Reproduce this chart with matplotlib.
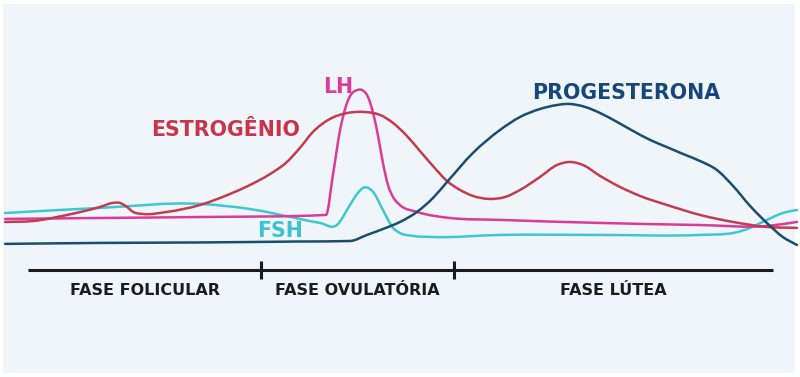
import matplotlib
matplotlib.use("Agg")
import numpy as np
import matplotlib.pyplot as plt
from matplotlib.patches import Rectangle, PathPatch
from matplotlib.path import Path

# ---- data (cycle day, relative hormone level) ----
prog_days = [-0.86, 2.71, 6.46, 10.22, 12.10, 12.74, 13.34, 13.98, 14.62, 15.22, 15.75,
             16.72, 17.74, 18.49, 19.24, 19.88, 20.26, 20.94, 21.50, 22.14, 22.74, 23.38,
             24.00, 24.62, 25.26, 25.89, 26.50, 27.14, 27.77, 28.37, 28.90]
prog_level = [3.8, 4.4, 4.7, 5.3, 5.6, 9.4, 13.1, 17.5, 23.8, 32.5, 42.5,
              60.6, 75.0, 83.1, 88.1, 90.6, 91.3, 89.4, 85.6, 80.0, 74.4, 68.8,
              64.4, 60.0, 55.6, 50.0, 40.0, 27.5, 16.9, 8.1, 3.1]

estr_days = [-0.86, 0.19, 1.47, 2.71, 3.19, 3.46, 3.72, 3.95, 4.32, 5.22, 6.46, 7.59, 8.34,
             9.10, 9.73, 10.22, 10.71, 11.35, 11.99, 12.37, 12.97, 13.23, 13.72, 14.24,
             14.73, 15.22, 15.75, 16.24, 16.72, 17.36, 17.93, 18.49, 19.24, 19.88, 20.37,
             20.86, 21.50, 22.25, 23.00, 24.02, 25.26, 26.50, 27.77, 28.90]
estr_level = [17.5, 18.1, 21.9, 26.9, 29.4, 29.4, 26.9, 23.8, 22.5, 23.8, 28.1, 35.0, 40.6,
              47.5, 55.0, 63.8, 73.8, 81.9, 85.6, 86.3, 85.6, 84.4, 79.4, 71.3,
              61.9, 52.5, 43.1, 37.5, 33.8, 31.9, 33.1, 37.5, 45.6, 53.1, 55.0,
              53.1, 46.3, 39.4, 33.8, 28.1, 21.9, 17.5, 14.4, 13.8]

lh_days = [-0.86, 2.71, 6.46, 11.20, 11.46, 11.73, 11.99, 12.29, 12.55, 12.78, 12.97, 13.15,
           13.34, 13.53, 13.72, 13.98, 14.62, 15.86, 17.74, 21.50, 25.26, 27.77, 28.90]
lh_level = [19.4, 20.0, 20.6, 21.9, 46.9, 75.0, 91.9, 99.4, 100.0, 95.6, 85.6, 71.9,
            54.4, 40.6, 33.1, 28.1, 23.8, 20.0, 18.8, 16.9, 15.6, 15.0, 17.5]

fsh_days = [-0.86, 2.71, 6.46, 8.34, 10.22, 10.97, 11.61, 12.10, 12.37, 12.59, 12.97,
            13.34, 13.72, 13.98, 14.47, 15.22, 17.74, 21.50, 25.26, 26.50, 27.14,
            27.77, 28.37, 28.90]
fsh_level = [23.1, 26.3, 28.8, 25.6, 19.4, 16.9, 15.6, 28.1, 35.0, 38.8, 36.3,
             25.0, 13.8, 10.6, 8.8, 8.1, 9.4, 9.4, 9.4, 10.6, 13.8,
             18.8, 23.1, 25.0]

phase_bounds = [0, 8.76, 16.0, 28]
phase_names = ["FASE FOLICULAR", "FASE OVULATÓRIA", "FASE LÚTEA"]

hormone_names = ["ESTROGÊNIO", "LH", "PROGESTERONA", "FSH"]
label_pos = [(7.44, 75.0), (11.65, 101.9), (22.47, 98.1), (9.47, 11.9)]

C_ESTR = "#c23b4e"
C_LH = "#db3b98"
C_PROG = "#1b4c72"
C_FSH = "#40c6d3"
label_colors = ["#c8354a", "#e0399c", "#17477a", "#3cc3d3"]


def smooth_path(xs, ys):
    """Cubic Bezier path through the given points (3-point tangents, Hyman-limited)."""
    x = np.asarray(xs, float)
    y = np.asarray(ys, float)
    h = np.diff(x)
    d = np.diff(y) / h
    n = len(x)
    m = np.zeros(n)
    m[0], m[-1] = d[0], d[-1]
    for i in range(1, n - 1):
        t = (h[i] * d[i - 1] + h[i - 1] * d[i]) / (h[i - 1] + h[i])
        lim = 3 * min(abs(d[i - 1]), abs(d[i]))
        if d[i - 1] * d[i] > 0:
            t = np.sign(t) * min(abs(t), lim)
        m[i] = t
    verts = [(x[0], y[0])]
    codes = [Path.MOVETO]
    for i in range(n - 1):
        verts += [(x[i] + h[i] / 3, y[i] + m[i] * h[i] / 3),
                  (x[i + 1] - h[i] / 3, y[i + 1] - m[i + 1] * h[i] / 3),
                  (x[i + 1], y[i + 1])]
        codes += [Path.CURVE4] * 3
    return Path(verts, codes)


fig = plt.figure(figsize=(8, 3.77), dpi=100, facecolor="white")
ax = fig.add_axes([0, 0, 1, 1])
ax.set_xlim(-1.052, 29.015)
ax.set_ylim(-79.4, 156.25)
ax.axis("off")

ax.add_patch(Rectangle((3 / 800, 4 / 377), 792 / 800, 369 / 377, transform=ax.transAxes,
                       facecolor="#eff5f9", edgecolor="none", zorder=0))

lw = 1.8
for xs, ys, c, z in [(fsh_days, fsh_level, C_FSH, 2), (lh_days, lh_level, C_LH, 3),
                     (estr_days, estr_level, C_ESTR, 4), (prog_days, prog_level, C_PROG, 5)]:
    ax.add_patch(PathPatch(smooth_path(xs, ys), facecolor="none", edgecolor=c, lw=lw,
                           zorder=z, capstyle="round", joinstyle="round"))

# timeline
ax.plot([phase_bounds[0], phase_bounds[-1]], [-12.5, -12.5], color="#1a1a1a", lw=2.2,
        solid_capstyle="butt", zorder=3)
for b in phase_bounds[1:-1]:
    ax.plot([b, b], [-6.9, -18.1], color="#1a1a1a", lw=2.2, solid_capstyle="butt", zorder=3)
for i, name in enumerate(phase_names):
    xc = (phase_bounds[i] + phase_bounds[i + 1]) / 2
    ax.text(xc, -25.6, name, ha="center", va="center", fontsize=11.5,
            fontweight="bold", color="#1c1c1c", family="DejaVu Sans")

for name, (x, y), c in zip(hormone_names, label_pos, label_colors):
    ax.text(x, y, name, ha="center", va="center", fontsize=14.8, fontweight="bold",
            color=c, family="DejaVu Sans")

fig.savefig("out.png", dpi=100, facecolor="white")
